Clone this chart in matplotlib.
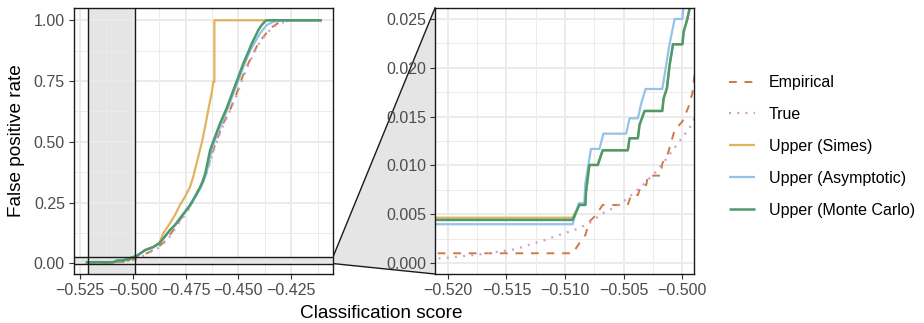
import matplotlib.pyplot as plt
from matplotlib.patches import Polygon
from matplotlib.lines import Line2D
from matplotlib.ticker import MultipleLocator, FuncFormatter

plt.rcParams["font.family"] = ["Liberation Sans", "DejaVu Sans"]

# false positive rate curves against the classification score threshold
emp_x = [-0.5222, -0.50936, -0.50878, -0.50827, -0.50793, -0.50735, -0.50680, -0.50465,
         -0.50436, -0.50379, -0.50350, -0.50307, -0.50294, -0.50185, -0.50170, -0.50122,
         -0.50065, -0.50000, -0.49951, -0.49914, -0.4982, -0.4934, -0.4887, -0.4840,
         -0.4808, -0.4777, -0.4745, -0.4714, -0.4690, -0.4666, -0.4643, -0.4630, -0.4603,
         -0.4572, -0.4540, -0.4508, -0.4484, -0.4461, -0.4430, -0.4406, -0.4382, -0.4350,
         -0.4319, -0.4299, -0.4248, -0.4106]
emp_y = [0.00102, 0.00102, 0.00205, 0.00289, 0.00425, 0.00494, 0.00596, 0.00596, 0.00698,
         0.00698, 0.00800, 0.00800, 0.00896, 0.00896, 0.01022, 0.01125, 0.01363, 0.01448,
         0.01585, 0.01738, 0.027, 0.041, 0.062, 0.096, 0.137, 0.178, 0.212, 0.260, 0.302,
         0.343, 0.398, 0.439, 0.507, 0.576, 0.631, 0.700, 0.761, 0.809, 0.864, 0.905, 0.932,
         0.967, 0.985, 0.994, 1.0, 1.0]

true_x = [-0.5222, -0.52049, -0.51906, -0.51763, -0.51563, -0.51426, -0.51292, -0.51170,
          -0.51050, -0.50921, -0.50793, -0.50679, -0.50564, -0.50450, -0.50336, -0.50208,
          -0.50122, -0.50037, -0.49951, -0.49914, -0.4975, -0.4930, -0.4882, -0.4836,
          -0.4803, -0.4772, -0.4742, -0.4710, -0.4686, -0.4663, -0.4640, -0.4627, -0.4600,
          -0.4568, -0.4538, -0.4505, -0.4480, -0.4457, -0.4427, -0.4402, -0.4380, -0.4345,
          -0.4310, -0.4280, -0.4240, -0.4106]
true_y = [0.0004, 0.00051, 0.00068, 0.00085, 0.00119, 0.00143, 0.00194, 0.00238, 0.00289,
          0.00340, 0.00409, 0.00511, 0.00579, 0.00681, 0.00801, 0.00954, 0.01090, 0.01227,
          0.01363, 0.01431, 0.019, 0.040, 0.062, 0.096, 0.137, 0.178, 0.212, 0.260, 0.302,
          0.343, 0.398, 0.439, 0.507, 0.576, 0.631, 0.700, 0.761, 0.809, 0.864, 0.905, 0.932,
          0.967, 0.985, 0.994, 1.0, 1.0]

simes_x = [-0.5222, -0.50936, -0.50878, -0.50827, -0.50821, -0.50793, -0.50721, -0.50679,
           -0.50465, -0.50450, -0.50379, -0.50365, -0.50322, -0.50171, -0.50159, -0.50131,
           -0.50108, -0.50079, -0.49999, -0.49988, -0.49959, -0.49931, -0.4975, -0.4940,
           -0.4905, -0.4875, -0.4856, -0.4824, -0.4800, -0.4777, -0.4753, -0.4729, -0.4714,
           -0.4698, -0.4686, -0.4674, -0.4658, -0.4643, -0.4627, -0.4619, -0.4614, -0.4614,
           -0.4106]
simes_y = [0.00466, 0.00466, 0.00596, 0.00596, 0.00733, 0.01005, 0.01005, 0.01155, 0.01155,
           0.01278, 0.01278, 0.01414, 0.01557, 0.01557, 0.01687, 0.01789, 0.02028, 0.02239,
           0.02239, 0.02368, 0.02488, 0.02641, 0.034, 0.055, 0.066, 0.082, 0.123, 0.165, 0.199,
           0.240, 0.274, 0.315, 0.356, 0.412, 0.453, 0.494, 0.562, 0.631, 0.700, 0.747, 0.747,
           1.0, 1.0]

asym_x = [-0.5222, -0.50936, -0.50884, -0.50836, -0.50827, -0.50779, -0.50707, -0.50673,
          -0.50479, -0.50450, -0.50379, -0.50350, -0.50313, -0.50171, -0.50151, -0.50113,
          -0.50065, -0.49999, -0.49988, -0.4977, -0.4942, -0.4906, -0.4876, -0.4848, -0.4823,
          -0.4799, -0.4775, -0.4751, -0.4727, -0.4703, -0.4680, -0.4666, -0.4652, -0.4641,
          -0.4627, -0.4614, -0.4580, -0.4550, -0.4518, -0.4494, -0.4470, -0.4447, -0.4421,
          -0.4398, -0.4366, -0.4335, -0.4295, -0.4106]
asym_y = [0.00399, 0.00399, 0.00613, 0.00613, 0.00818, 0.01169, 0.01169, 0.01325, 0.01325,
          0.01482, 0.01482, 0.01636, 0.01782, 0.01782, 0.01925, 0.02215, 0.02498, 0.02498,
          0.02641, 0.034, 0.055, 0.066, 0.082, 0.110, 0.137, 0.158, 0.185, 0.212, 0.240, 0.274,
          0.309, 0.336, 0.370, 0.412, 0.466, 0.500, 0.576, 0.638, 0.713, 0.768, 0.823, 0.871,
          0.912, 0.946, 0.981, 0.994, 1.0, 1.0]

mc_x = [-0.5222, -0.50936, -0.50878, -0.50827, -0.50821, -0.50793, -0.50721, -0.50679,
        -0.50465, -0.50450, -0.50379, -0.50365, -0.50322, -0.50171, -0.50159, -0.50131,
        -0.50108, -0.50079, -0.49999, -0.49988, -0.49959, -0.49931, -0.4975, -0.4940, -0.4905,
        -0.4875, -0.4848, -0.4824, -0.4800, -0.4777, -0.4753, -0.4729, -0.4706, -0.4684,
        -0.4670, -0.4657, -0.4647, -0.4634, -0.4620, -0.4587, -0.4556, -0.4524, -0.4500,
        -0.4477, -0.4453, -0.4437, -0.4421, -0.4406, -0.4390, -0.4369, -0.4106]
mc_y = [0.00443, 0.00443, 0.00596, 0.00596, 0.00733, 0.01005, 0.01005, 0.01155, 0.01155,
        0.01278, 0.01278, 0.01414, 0.01557, 0.01557, 0.01687, 0.01789, 0.02028, 0.02239,
        0.02239, 0.02368, 0.02488, 0.02641, 0.034, 0.055, 0.066, 0.082, 0.110, 0.137, 0.158,
        0.185, 0.212, 0.240, 0.274, 0.309, 0.336, 0.370, 0.412, 0.466, 0.500, 0.576, 0.638,
        0.713, 0.768, 0.823, 0.871, 0.905, 0.933, 0.960, 0.981, 1.0, 1.0]

labels = ["Empirical", "True", "Upper (Simes)", "Upper (Asymptotic)", "Upper (Monte Carlo)"]
colors = ["#CC7A48", "#CE9DCB", "#E1B35E", "#94C2EA", "#4E9A6A"]

# zoomed window shown in the right panel
zoom_x = (-0.5211, -0.4990)
zoom_y = (-0.0011, 0.0261)


def fmt(decimals):
    return FuncFormatter(lambda v, pos: f"{v:.{decimals}f}".replace("-", "\u2212"))


W, H = 924, 323
fig = plt.figure(figsize=(W / 100, H / 100), dpi=100)
ax1 = fig.add_axes([74 / W, 49 / H, 259 / W, 266 / H])
ax2 = fig.add_axes([435 / W, 49 / H, 259 / W, 266 / H])

curves = [(emp_x, emp_y), (true_x, true_y), (simes_x, simes_y), (asym_x, asym_y), (mc_x, mc_y)]
styles = [dict(lw=1.4, dashes=(4, 4)), dict(lw=1.6, dashes=(0.9, 2.8)),
          dict(lw=1.6), dict(lw=1.6), dict(lw=1.8)]

for ax in (ax1, ax2):
    for (xs, ys), lab, col, st in zip(curves, labels, colors, styles):
        ax.plot(xs, ys, color=col, label=lab, solid_capstyle="butt", **st)
    ax.set_facecolor("white")
    ax.set_axisbelow(True)
    ax.grid(which="major", color="#EBEBEB", lw=1.4)
    ax.grid(which="minor", color="#EBEBEB", lw=0.7)
    for sp in ax.spines.values():
        sp.set_color("#1A1A1A")
        sp.set_linewidth(1.0)
    ax.tick_params(which="major", direction="out", length=3.5, width=0.8, color="#333333",
                   labelsize=11.5, labelcolor="#4D4D4D", pad=3)
    ax.tick_params(which="minor", length=0)

ax1.set_xlim(-0.5278, -0.4053)
ax1.set_ylim(-0.044, 1.0506)
ax1.xaxis.set_major_locator(MultipleLocator(0.025))
ax1.xaxis.set_minor_locator(MultipleLocator(0.0125))
ax1.yaxis.set_major_locator(MultipleLocator(0.25))
ax1.yaxis.set_minor_locator(MultipleLocator(0.125))
ax1.xaxis.set_major_formatter(fmt(3))
ax1.yaxis.set_major_formatter(fmt(2))

ax2.set_xlim(*zoom_x)
ax2.set_ylim(*zoom_y)
ax2.xaxis.set_major_locator(MultipleLocator(0.005))
ax2.xaxis.set_minor_locator(MultipleLocator(0.0025))
ax2.yaxis.set_major_locator(MultipleLocator(0.005))
ax2.yaxis.set_minor_locator(MultipleLocator(0.0025))
ax2.xaxis.set_major_formatter(fmt(3))
ax2.yaxis.set_major_formatter(fmt(3))

# zoom indicator on the overview panel
shade = "#E5E5E5"
ax1.axvspan(*zoom_x, color=shade, zorder=0.2, lw=0)
ax1.axhspan(*zoom_y, color=shade, zorder=0.2, lw=0)
for v in zoom_x:
    ax1.axvline(v, color="#1A1A1A", lw=1.0, zorder=3)
for v in zoom_y:
    ax1.axhline(v, color="#1A1A1A", lw=1.0, zorder=3)

# trapezoid linking the horizontal band to the zoom panel
to_fig = fig.transFigure.inverted()
x_edge = ax1.get_xlim()[1]
p_top_l = to_fig.transform(ax1.transData.transform((x_edge, zoom_y[1])))
p_bot_l = to_fig.transform(ax1.transData.transform((x_edge, zoom_y[0])))
p_top_r = to_fig.transform(ax2.transAxes.transform((0, 1)))
p_bot_r = to_fig.transform(ax2.transAxes.transform((0, 0)))
fig.patches.append(Polygon([p_top_l, p_top_r, p_bot_r, p_bot_l], closed=True,
                           facecolor=shade, edgecolor="none", transform=fig.transFigure,
                           zorder=-2))
for a, b in ((p_top_l, p_top_r), (p_bot_l, p_bot_r)):
    fig.lines.append(Line2D([a[0], b[0]], [a[1], b[1]], color="#1A1A1A", lw=1.0,
                            transform=fig.transFigure, zorder=-1))

fig.text(381 / W, 4.7 / H, "Classification score", ha="center", va="baseline", fontsize=13.7)
fig.text(17 / W, (H - 141) / H, "False positive rate", ha="center", va="center",
         rotation=90, fontsize=13.7)

handles, labs = ax2.get_legend_handles_labels()
fig.legend(handles, labs, loc="center left", bbox_to_anchor=(729 / W, (H - 146.5) / H),
           frameon=False, fontsize=11.5, handlelength=1.6, handletextpad=0.9,
           labelspacing=1.06, borderpad=0, borderaxespad=0)

fig.savefig("out.png", dpi=100)
